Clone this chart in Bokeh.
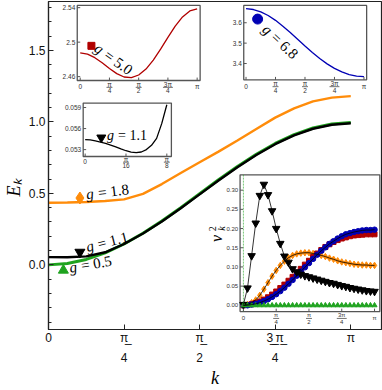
import math
from bokeh.plotting import figure
from bokeh.models import Range1d, FixedTicker, LinearAxis, CustomJSTickFormatter
from bokeh.core.properties import value
from bokeh.embed import file_html
from bokeh.resources import INLINE

PI = math.pi

# ---------------- data ----------------
# main panel: E_k for g = 0.5, 1.1, 1.8 on k = n*pi/16
k_main = [n * PI / 16 for n in range(17)]
E_g05 = [0.000, 0.010, 0.038, 0.084, 0.146, 0.221, 0.307, 0.400, 0.498, 0.595,
         0.688, 0.774, 0.849, 0.911, 0.957, 0.985, 0.995]
E_g11 = [0.0544, 0.0528, 0.0595, 0.088, 0.146, 0.219, 0.303, 0.396, 0.493, 0.590,
         0.683, 0.769, 0.844, 0.906, 0.952, 0.980, 0.990]
E_g18 = [0.435, 0.436, 0.440, 0.447, 0.458, 0.497, 0.565, 0.642, 0.718, 0.792,
         0.870, 0.950, 1.030, 1.095, 1.143, 1.170, 1.180]

# insets: g = 5.0 and g = 6.8 on k = n*pi/16
E_g50 = [2.4875, 2.4861, 2.4820, 2.4761, 2.4694, 2.4635, 2.4596, 2.4589, 2.4619,
         2.4688, 2.4792, 2.4919, 2.5056, 2.5185, 2.5292, 2.5362, 2.5386]
E_g68 = [3.6688, 3.6649, 3.6536, 3.6356, 3.6117, 3.5833, 3.5519, 3.5189, 3.4858,
         3.4539, 3.4245, 3.3983, 3.3763, 3.3588, 3.3460, 3.3383, 3.3358]

# inset: g = 1.1 zoom on k = n*pi/128
k_zoom = [n * PI / 128 for n in range(17)]
E_g11_zoom = [0.05442, 0.05438, 0.05425, 0.05408, 0.05388, 0.05364, 0.05338, 0.05310,
              0.05284, 0.05264, 0.05256, 0.05266, 0.05300, 0.05362, 0.05460, 0.05670,
              0.05940]

# inset: nu_k^2 on k = n*pi/32
k_nu = [n * PI / 32 for n in range(33)]
nu_g05 = [0.000, 0.000, 0.000, 0.000, 0.000, 0.000, 0.000, 0.000, 0.000, 0.000, 0.000,
          0.000, 0.000, 0.000, 0.000, 0.000, 0.000, 0.000, 0.000, 0.000, 0.000, 0.000,
          0.000, 0.000, 0.000, 0.000, 0.000, 0.000, 0.000, 0.000, 0.000, 0.000, 0.000]
nu_g11 = [0.002, 0.045, 0.129, 0.214, 0.286, 0.315, 0.288, 0.246, 0.200, 0.161, 0.128,
          0.112, 0.095, 0.087, 0.081, 0.077, 0.074, 0.071, 0.068, 0.065, 0.062, 0.059,
          0.057, 0.054, 0.051, 0.049, 0.046, 0.044, 0.042, 0.040, 0.038, 0.037, 0.036]
nu_g18 = [0.000, 0.002, 0.007, 0.014, 0.026, 0.042, 0.059, 0.076, 0.091, 0.104, 0.115,
          0.124, 0.130, 0.134, 0.136, 0.137, 0.137, 0.135, 0.133, 0.130, 0.127, 0.123,
          0.120, 0.116, 0.113, 0.111, 0.109, 0.107, 0.106, 0.105, 0.105, 0.104, 0.104]
nu_g50 = [0.000, 0.001, 0.003, 0.006, 0.010, 0.015, 0.021, 0.028, 0.036, 0.045, 0.054,
          0.064, 0.074, 0.085, 0.095, 0.106, 0.116, 0.126, 0.135, 0.144, 0.152, 0.159,
          0.165, 0.170, 0.174, 0.177, 0.180, 0.182, 0.183, 0.184, 0.185, 0.185, 0.185]
nu_g68 = [0.000, 0.000, 0.002, 0.004, 0.007, 0.011, 0.016, 0.022, 0.029, 0.037, 0.046,
          0.056, 0.066, 0.077, 0.088, 0.099, 0.110, 0.121, 0.132, 0.142, 0.151, 0.160,
          0.167, 0.174, 0.180, 0.185, 0.188, 0.191, 0.193, 0.195, 0.196, 0.196, 0.197]
nu_spike_k = [0.0]

# ticks
main_xticks = [0, PI / 4, PI / 2, 3 * PI / 4, PI]
main_xnum = ["0", "π\u0332", "π\u0332", "3\u0332\u2009\u0332π\u0332", "π"]
main_xden = ["", "4", "2", "4", ""]
main_yticks = [0.0, 0.5, 1.0, 1.5]
main_yminor = [round(-0.4 + 0.1 * i, 1) for i in range(23)]
pi_xlabels = ["0", ("π", "4"), ("π", "2"), ("3π", "4"), "π"]
red_yticks, red_ylabels = [2.46, 2.50, 2.54], ["2.46", "2.5", "2.54"]
blue_yticks, blue_ylabels = [3.4, 3.5, 3.6], ["3.4", "3.5", "3.6"]
zoom_xticks, zoom_xlabels = [0, PI / 16, PI / 8], ["0", ("π", "16"), ("π", "8")]
zoom_yticks, zoom_ylabels = [0.053, 0.056, 0.059], ["0.053", "0.056", "0.059"]
nu_yticks = [0.00, 0.05, 0.10, 0.15, 0.20, 0.25, 0.30]
nu_ylabels = ["0.00", "0.05", "0.10", "0.15", "0.20", "0.25", "0.30"]

# colours / fonts
GREEN = "#1fa31f"
ORANGE = "#ff8c0a"
RED = "#b00000"
BLUE = "#0000b4"
SERIF = "Liberation Serif"
SANS = "Liberation Sans"

# ---------------- layout helpers (reference-pixel geometry) ----------------
XR = (0.0, 3.461)
YR = (-0.452, 1.842)
FRAME = (45, 381, 1, 336)  # left, right, top, bottom of main frame in pixels


def ox(px):
    return XR[0] + (px - FRAME[0]) * (XR[1] - XR[0]) / (FRAME[1] - FRAME[0])


def oy(py):
    return YR[1] - (py - FRAME[2]) * (YR[1] - YR[0]) / (FRAME[3] - FRAME[2])


p = figure(width=382, height=390, x_range=Range1d(*XR), y_range=Range1d(*YR),
           output_backend="svg", toolbar_location=None,
           min_border_left=45, min_border_right=1, min_border_top=1, min_border_bottom=54)
p.grid.visible = False
p.outline_line_color = "#222222"
p.outline_line_width = 1.2

for ax in (p.xaxis[0], p.yaxis[0]):
    ax.axis_line_color = "#222222"
    ax.axis_line_width = 1.2
    ax.major_tick_line_color = "#222222"
    ax.minor_tick_line_color = "#222222"
    ax.major_tick_in = 5
    ax.major_tick_out = 0
    ax.minor_tick_in = 3
    ax.minor_tick_out = 0
    ax.major_label_text_font = SANS
    ax.major_label_text_font_size = "12px"
    ax.major_label_text_color = "#111111"

fmt_code = ("const i = xt.findIndex(t => Math.abs(t - tick) < 1e-6);"
            "return i < 0 ? '' : labs[i];")
p.xaxis.ticker = FixedTicker(ticks=main_xticks, minor_ticks=[])
p.xaxis.formatter = CustomJSTickFormatter(args=dict(xt=main_xticks, labs=main_xnum),
                                          code=fmt_code)
p.xaxis.major_label_standoff = 1

den_axis = LinearAxis(ticker=FixedTicker(ticks=main_xticks, minor_ticks=[]),
                      formatter=CustomJSTickFormatter(args=dict(xt=main_xticks, labs=main_xden),
                                                      code=fmt_code),
                      axis_line_color=None, major_tick_line_color=None,
                      minor_tick_line_color=None, major_label_standoff=-1,
                      major_label_text_font=SANS, major_label_text_font_size="12px",
                      major_label_text_color="#111111",
                      axis_label="k", axis_label_text_font=SERIF,
                      axis_label_text_font_style="italic", axis_label_text_font_size="18px",
                      axis_label_standoff=3, axis_label_text_color="black")
p.add_layout(den_axis, "below")

p.yaxis.ticker = FixedTicker(ticks=main_yticks, minor_ticks=main_yminor)
p.yaxis.formatter = CustomJSTickFormatter(code="return tick.toFixed(1);")
p.yaxis.major_label_standoff = 3
p.yaxis.axis_label = "E\u2096\u2003\u2003\u2002"
p.yaxis.axis_label_text_font = SERIF
p.yaxis.axis_label_text_font_style = "italic"
p.yaxis.axis_label_text_font_size = "18px"
p.yaxis.axis_label_standoff = 2
p.yaxis.axis_label_text_color = "black"

# ---------------- main curves ----------------
p.line(k_main, E_g18, line_color=ORANGE, line_width=2.4)
p.line(k_main, E_g05, line_color=GREEN, line_width=3.0)
p.line(k_main, E_g11, line_color="black", line_width=2.4)


def g_label(x, y, num, angle, size="15px", off=12, **kw):
    p.text(x=[x], y=[y], text=["g"], angle=angle, text_font=value(SERIF),
           text_font_style="italic", text_font_size=size, text_align="left",
           text_baseline="middle", text_color="black", **kw)
    p.text(x=[x], y=[y], text=["= " + num], angle=angle,
           x_offset=off * math.cos(angle), y_offset=-off * math.sin(angle),
           text_font=value(SERIF), text_font_size=size, text_align="left",
           text_baseline="middle", text_color="black", **kw)


p.scatter([ox(76.7)], [oy(201.7)], marker="diamond", size=12, color=ORANGE)
g_label(ox(83), oy(198), "1.8", 0.12)
p.scatter([ox(76.7)], [oy(257)], marker="inverted_triangle", size=10, color="black")
g_label(ox(83), oy(252), "1.1", 0.25)
p.scatter([ox(60)], [oy(275.5)], marker="triangle", size=10, color=GREEN)
g_label(ox(66), oy(273), "0.5", 0.17)


# ---------------- insets ----------------
def make_inset(name, box, xlim, ylim):
    bx0, bx1, by0, by1 = box
    ppx = (bx1 - bx0) / (xlim[1] - xlim[0])
    ppy = (by1 - by0) / (ylim[1] - ylim[0])
    p.extra_x_ranges[name + "_x"] = Range1d(xlim[0] - (bx0 - FRAME[0]) / ppx,
                                            xlim[1] + (FRAME[1] - bx1) / ppx)
    p.extra_y_ranges[name + "_y"] = Range1d(ylim[0] - (FRAME[3] - by1) / ppy,
                                            ylim[1] + (by0 - FRAME[2]) / ppy)
    kw = dict(x_range_name=name + "_x", y_range_name=name + "_y")
    p.quad(left=[xlim[0]], right=[xlim[1]], bottom=[ylim[0]], top=[ylim[1]],
           fill_color="white", line_color="#555555", line_width=1.3, **kw)
    return kw, ppx, ppy


def inset_axes(kw, ppx, ppy, xlim, ylim, xticks, xlabels, yticks, ylabels, fs="6.5px",
               num_dy=3.8, bar_dy=7.0, den_dy=10.5, plain_dy=6.5):
    tl = 3.0
    n, m = len(xticks), len(yticks)
    p.segment(x0=xticks, y0=[ylim[0]] * n, x1=xticks, y1=[ylim[0] + tl / ppy] * n,
              line_color="#555555", line_width=1, **kw)
    p.segment(x0=[xlim[0]] * m, y0=yticks, x1=[xlim[0] + tl / ppx] * m, y1=yticks,
              line_color="#555555", line_width=1, **kw)
    p.text(x=[xlim[0] - 2.0 / ppx] * m, y=yticks, text=ylabels, text_align="right",
           text_baseline="middle", text_font=value(SANS), text_font_size=fs,
           text_color="#333333", **kw)
    for t, lab in zip(xticks, xlabels):
        if isinstance(lab, tuple):
            num, den = lab
            p.text(x=[t], y=[ylim[0] - num_dy / ppy], text=[num], text_align="center",
                   text_baseline="middle", text_font=value(SANS), text_font_size=fs,
                   text_color="#333333", **kw)
            hw = (3.0 if len(num) == 1 else 5.0) / ppx
            p.segment(x0=[t - hw], y0=[ylim[0] - bar_dy / ppy], x1=[t + hw],
                      y1=[ylim[0] - bar_dy / ppy], line_color="#333333", line_width=0.7, **kw)
            p.text(x=[t], y=[ylim[0] - den_dy / ppy], text=[den], text_align="center",
                   text_baseline="middle", text_font=value(SANS), text_font_size=fs,
                   text_color="#333333", **kw)
        else:
            p.text(x=[t], y=[ylim[0] - plain_dy / ppy], text=[lab], text_align="center",
                   text_baseline="middle", text_font=value(SANS), text_font_size=fs,
                   text_color="#333333", **kw)


# red inset (g = 5.0)
RX, RY = (-0.080, 3.222), (2.4555, 2.5426)
kw, ppx, ppy = make_inset("red", (74, 198, 5, 81.7), RX, RY)
p.line(k_main, E_g50, line_color=RED, line_width=1.3, **kw)
inset_axes(kw, ppx, ppy, RX, RY, main_xticks, pi_xlabels, red_yticks, red_ylabels)
p.scatter([0.301], [2.4957], marker="square", size=7, color=RED, **kw)
g_label(0.426, 2.4949, "5.0", -0.62, **kw)

# blue inset (g = 6.8)
BX, BY = (-0.061, 3.213), (3.320, 3.685)
kw, ppx, ppy = make_inset("blue", (242, 366, 5, 81), BX, BY)
p.line(k_main, E_g68, line_color=BLUE, line_width=1.3, **kw)
inset_axes(kw, ppx, ppy, BX, BY, main_xticks, pi_xlabels, blue_yticks, blue_ylabels)
p.scatter([0.309], [3.618], marker="circle", size=10, color=BLUE, **kw)
g_label(0.494, 3.579, "6.8", -0.75, **kw)

# black zoom inset (g = 1.1)
ZX, ZY = (-0.0095, 0.4147), (0.05202, 0.05964)
kw, ppx, ppy = make_inset("zoom", (80, 169, 104.7, 159.3), ZX, ZY)
p.line(k_zoom, E_g11_zoom, line_color="black", line_width=1.3, **kw)
inset_axes(kw, ppx, ppy, ZX, ZY, zoom_xticks, zoom_xlabels, zoom_yticks, zoom_ylabels,
           num_dy=2.8, bar_dy=5.8, den_dy=9.5, plain_dy=5.5)
p.scatter([0.0777], [0.05471], marker="inverted_triangle", size=9, color="black", **kw)
g_label(0.105, 0.05499, "1.1", 0.0, size="14px", off=11, **kw)

# nu_k^2 inset
NX, NY = (-0.08, 3.268), (-0.0163, 0.340)
kw, ppx, ppy = make_inset("nu", (238.3, 379.3, 178, 317.7), NX, NY)
p.segment(x0=nu_spike_k, y0=[NY[0]], x1=nu_spike_k, y1=[NY[1]], line_color=GREEN,
          line_width=1, line_dash="2 1", line_alpha=0.6, **kw)
p.scatter(k_nu, nu_g18, marker="diamond", size=6.5, color=ORANGE, **kw)
p.scatter(k_nu, nu_g50, marker="square", size=5, color=RED, **kw)
p.scatter(k_nu, nu_g68, marker="circle", size=5.5, color=BLUE, **kw)
p.scatter(k_nu, nu_g11, marker="inverted_triangle", size=7.5, color="black", **kw)
p.scatter(k_nu, nu_g05, marker="triangle", size=5, color=GREEN, **kw)
p.line(k_nu, nu_g11, line_color="black", line_width=0.8, **kw)
p.line(k_nu, nu_g18, line_color="black", line_width=0.8, **kw)
p.line(k_nu, nu_g68, line_color="black", line_width=0.8, **kw)
inset_axes(kw, ppx, ppy, NX, NY, main_xticks, pi_xlabels, nu_yticks, nu_ylabels, fs="6px")

# nu_k^2 label (rotated)
p.text(x=[ox(215)], y=[oy(243)], text=["ν"], angle=PI / 2, text_font=value(SERIF),
       text_font_style="italic", text_font_size="16px", text_align="center",
       text_baseline="middle")
p.text(x=[ox(220)], y=[oy(233)], text=["k"], angle=PI / 2, text_font=value(SERIF),
       text_font_style="italic", text_font_size="10px", text_align="center",
       text_baseline="middle")
p.text(x=[ox(210)], y=[oy(233)], text=["2"], angle=PI / 2, text_font=value(SERIF),
       text_font_size="10px", text_align="center", text_baseline="middle")

open("out.html", "w").write(file_html(p, INLINE))
